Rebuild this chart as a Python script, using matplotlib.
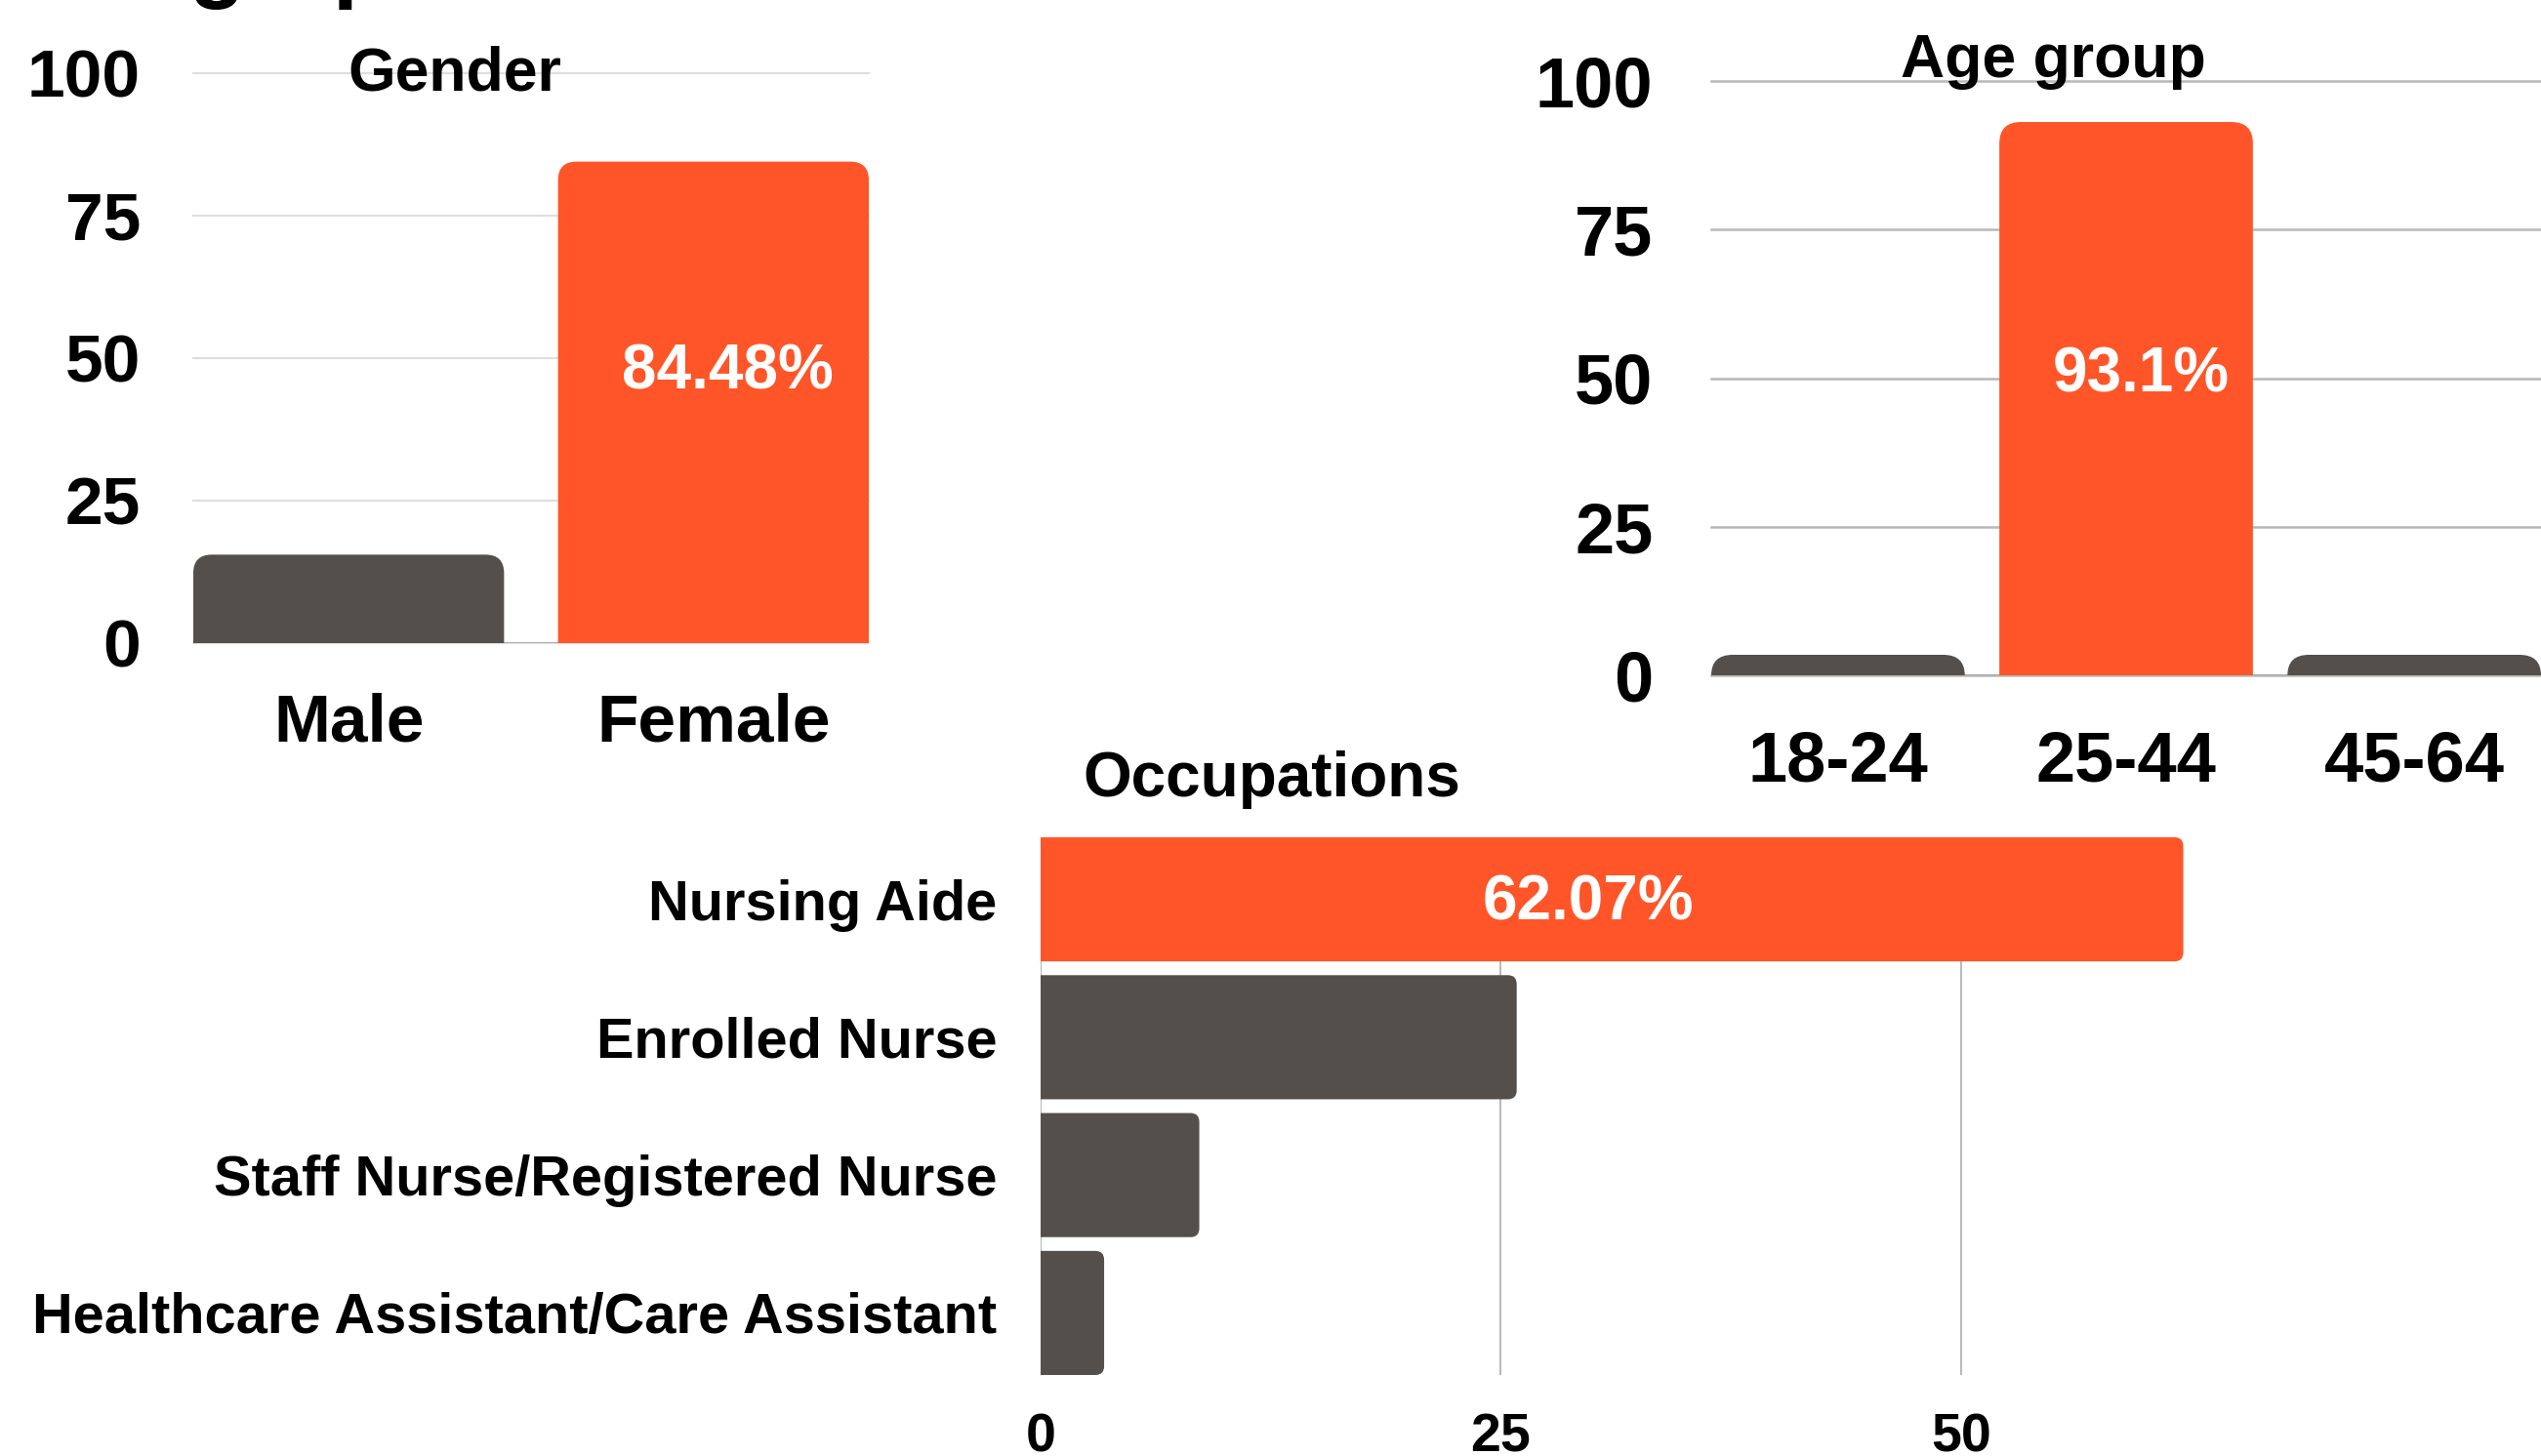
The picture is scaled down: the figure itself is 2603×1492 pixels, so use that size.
import numpy as np
import matplotlib

matplotlib.use('Agg')

import matplotlib.pyplot as plt
from matplotlib.path import Path
from matplotlib.patches import PathPatch

plt.rcParams['font.family'] = ['Liberation Sans', 'DejaVu Sans']
plt.rcParams['font.weight'] = 'bold'
plt.rcParams['axes.unicode_minus'] = False

ORANGE = '#FF5528'
GREY = '#554F4C'

gender_labels = ['Male', 'Female']
gender_values = [15.52, 84.48]

age_labels = ['18-24', '25-44', '45-64']
age_values = [3.45, 93.1, 3.45]

occ_labels = ['Nursing Aide', 'Enrolled Nurse', 'Staff Nurse/Registered Nurse',
              'Healthcare Assistant/Care Assistant']
occ_values = [62.07, 25.86, 8.62, 3.45]

W, H = 2603, 1492
fig = plt.figure(figsize=(W / 100, H / 100), dpi=100)


def px_axes(left, top, right, bottom):
    return fig.add_axes([left / W, 1 - bottom / H, (right - left) / W, (bottom - top) / H])


def round_bars(ax, bars, r_px, horizontal=False):
    p0 = ax.transData.transform((0, 0))
    p1 = ax.transData.transform((1, 1))
    rx = r_px / abs(p1[0] - p0[0])
    ry = r_px / abs(p1[1] - p0[1])
    for b in bars:
        x0, y0, w, h = b.get_x(), b.get_y(), b.get_width(), b.get_height()
        if horizontal:
            rx_, ry_ = min(rx, w), min(ry, h / 2)
            verts = [(x0, y0), (x0 + w - rx_, y0), (x0 + w, y0), (x0 + w, y0 + ry_),
                     (x0 + w, y0 + h - ry_), (x0 + w, y0 + h), (x0 + w - rx_, y0 + h),
                     (x0, y0 + h), (x0, y0)]
        else:
            rx_, ry_ = min(rx, w / 2), min(ry, h)
            verts = [(x0, y0), (x0, y0 + h - ry_), (x0, y0 + h), (x0 + rx_, y0 + h),
                     (x0 + w - rx_, y0 + h), (x0 + w, y0 + h), (x0 + w, y0 + h - ry_),
                     (x0 + w, y0), (x0, y0)]
        codes = [Path.MOVETO, Path.LINETO, Path.CURVE3, Path.CURVE3, Path.LINETO,
                 Path.CURVE3, Path.CURVE3, Path.LINETO, Path.CLOSEPOLY]
        ax.add_patch(PathPatch(Path(verts, codes), facecolor=b.get_facecolor(),
                               edgecolor='none', zorder=3))
        b.set_visible(False)


def colours(values):
    top = int(np.argmax(values))
    return [ORANGE if i == top else GREY for i in range(len(values))]


def clean(ax):
    for s in ax.spines.values():
        s.set_visible(False)
    ax.set_axisbelow(True)


# Gender
ax = px_axes(198, 75, 890, 659)
w = 0.852
ax.set_xlim(-w / 2, 1 + w / 2)
ax.set_ylim(0, 100)
bars = ax.bar(range(len(gender_values)), gender_values, width=w, color=colours(gender_values))
clean(ax)
ax.axhline(0, color='#b0b0b0', lw=1.5, zorder=2)
ax.set_yticks([0, 25, 50, 75, 100])
ax.yaxis.grid(True, color='#dedede', lw=1.5)
for ln in ax.get_ygridlines():
    ln.set_clip_on(False)
ax.set_xticks(range(len(gender_labels)), gender_labels)
ax.tick_params(axis='y', length=0, pad=39, labelsize=50)
ax.tick_params(axis='x', length=0, pad=36, labelsize=50)
round_bars(ax, bars, 19)
i = int(np.argmax(gender_values))
ax.text(i + 0.04, gender_values[i] / 2 + 5.2, f"{gender_values[i]}%", color='white',
        fontsize=46, ha='center', va='center', zorder=5)
fig.text(466 / W, 1 - 76 / H, 'Gender', fontsize=45, ha='center', va='center')

# Age group
ax = px_axes(1753, 83, 2603, 692)
w = 0.88
ax.set_xlim(-w / 2, 2 + w / 2)
ax.set_ylim(0, 100)
bars = ax.bar(range(len(age_values)), age_values, width=w, color=colours(age_values))
clean(ax)
ax.axhline(0, color='#a8a8a8', lw=1.5, zorder=2)
ax.set_yticks([0, 25, 50, 75, 100])
ax.yaxis.grid(True, color='#b8b8b8', lw=1.8)
for ln in ax.get_ygridlines():
    ln.set_clip_on(False)
ax.set_xticks(range(len(age_labels)), age_labels)
ax.tick_params(axis='y', length=0, pad=43, labelsize=52)
ax.tick_params(axis='x', length=0, pad=40, labelsize=52)
round_bars(ax, bars, 22)
i = int(np.argmax(age_values))
ax.text(i + 0.05, age_values[i] / 2 + 3.9, f"{age_values[i]}%", color='white',
        fontsize=46, ha='center', va='center', zorder=5)
fig.text(2103 / W, 1 - 62 / H, 'Age group', fontsize=45, ha='center', va='center')

# Occupations
ax = px_axes(1066, 858, 2603, 1409)
h = 0.9
ax.set_xlim(0, 81.5)
ax.set_ylim(len(occ_values) - 1 + h / 2, -h / 2)
bars = ax.barh(range(len(occ_values)), occ_values, height=h, color=colours(occ_values))
clean(ax)
ax.axvline(0, color='#b8b8b8', lw=1.5, zorder=2)
ax.set_xticks([0, 25, 50])
ax.xaxis.grid(True, color='#bbbbbb', lw=1.5)
ax.set_yticks(range(len(occ_labels)), occ_labels)
ax.tick_params(axis='y', length=0, pad=32, labelsize=41.6)
ax.tick_params(axis='x', length=0, pad=28, labelsize=40)
round_bars(ax, bars, 9, horizontal=True)
i = int(np.argmax(occ_values))
ax.text(occ_values[i] / 2 - 1.3, i + 0.03, f"{occ_values[i]}%", color='white',
        fontsize=46, ha='center', va='center', zorder=5)
fig.text(1303 / W, 1 - 799 / H, 'Occupations', fontsize=46, ha='center', va='center')

# page heading, only its descenders fall inside the crop
fig.text(-68 / W, 1 + 10 / H, 'Demographics', fontsize=68, ha='left', va='baseline')

fig.savefig('out.png', dpi=100)
